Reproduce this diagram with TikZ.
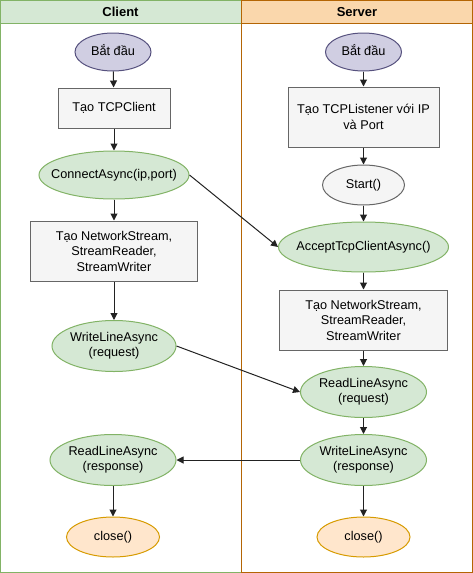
\documentclass[tikz,border=0pt]{standalone}
\usepackage{fontspec}
\setmainfont{Liberation Sans}
\usetikzlibrary{shapes.geometric,arrows.meta}
\definecolor{gfill}{HTML}{D5E8D4}
\definecolor{gline}{HTML}{82B366}
\definecolor{ofill}{HTML}{FAD7AC}
\definecolor{oline}{HTML}{B46504}
\definecolor{pfill}{HTML}{D0CEE2}
\definecolor{pline}{HTML}{56517E}
\definecolor{rfill}{HTML}{F5F5F5}
\definecolor{rline}{HTML}{666666}
\definecolor{cfill}{HTML}{FFE6CC}
\definecolor{cline}{HTML}{D79B00}
\definecolor{arr}{HTML}{222222}
\newcommand\ztxt[1]{\makebox[0pt]{\begin{tabular}{@{}c@{}}#1\end{tabular}}}
\tikzset{
  base/.style={font=\fontsize{12.7}{15.5}\selectfont, align=center, inner sep=0pt, line width=1pt},
  startnode/.style={base, ellipse, draw=pline, fill=pfill, minimum width=76pt, minimum height=38pt},
  boxnode/.style={base, rectangle, draw=rline, fill=rfill},
  greennode/.style={base, ellipse, draw=gline, fill=gfill},
  greynode/.style={base, ellipse, draw=rline, fill=rfill, minimum width=82pt, minimum height=40pt},
  endnode/.style={base, ellipse, draw=cline, fill=cfill, minimum width=93pt, minimum height=40pt},
  flow/.style={-{Triangle[length=7pt,width=7pt]}, line width=1pt, draw=arr},
  header/.style={font=\fontsize{13}{15}\selectfont\bfseries},
}
\begin{document}
\begin{tikzpicture}[x=1pt,y=-1pt]
\useasboundingbox (0,0) rectangle (473,573);
% lanes
\draw[line width=1pt, draw=gline] (0.5,0.5) rectangle (241,572.5);
\draw[line width=1pt, draw=gline, fill=gfill] (0.5,0.5) rectangle (241,23);
\draw[line width=1pt, draw=oline] (241,0.5) rectangle (472.5,572.5);
\draw[line width=1pt, draw=oline, fill=ofill] (241,0.5) rectangle (472.5,23);
\node[header] (hc) at (120.5,12) {Client};
\node[header] (hs) at (357,12) {Server};
% client
\node[startnode] (c1) at (113,52) {\ztxt{Bắt đầu}};
\node[boxnode, minimum width=112pt, minimum height=40pt] (c2) at (114,108) {Tạo TCPClient};
\node[greennode, minimum width=150pt, minimum height=48pt] (c3) at (114,175) {\ztxt{ConnectAsync(ip,port)}};
\node[boxnode, minimum width=167pt, minimum height=60pt] (c4) at (114,251) {Tạo NetworkStream,\\StreamReader,\\StreamWriter};
\node[greennode, minimum width=124pt, minimum height=51pt] (c5) at (114,346) {\ztxt{WriteLineAsync\\(request)}};
\node[greennode, minimum width=126pt, minimum height=51pt] (c6) at (113,460) {\ztxt{ReadLineAsync\\(response)}};
\node[endnode] (c7) at (113,537) {\ztxt{close()}};
% server
\node[startnode] (s1) at (363.5,52) {\ztxt{Bắt đầu}};
\node[boxnode, minimum width=151pt, minimum height=60pt] (s2) at (363.5,117) {Tạo TCPListener với IP\\và Port};
\node[greynode] (s3) at (363.5,185) {\ztxt{Start()}};
\node[greennode, minimum width=170pt, minimum height=50pt] (s4) at (363.5,247) {\ztxt{AcceptTcpClientAsync()}};
\node[boxnode, minimum width=168pt, minimum height=60pt] (s5) at (363.5,320) {Tạo NetworkStream,\\StreamReader,\\StreamWriter};
\node[greennode, minimum width=126pt, minimum height=51pt] (s6) at (363.5,392) {\ztxt{ReadLineAsync\\(request)}};
\node[greennode, minimum width=126pt, minimum height=51pt] (s7) at (363.5,460) {\ztxt{WriteLineAsync\\(response)}};
\node[endnode] (s8) at (363.5,537) {\ztxt{close()}};
% client flow
\draw[flow] (c1) -- (c2);
\draw[flow] (c2) -- (c3);
\draw[flow] (c3) -- (c4);
\draw[flow] (c4) -- (c5);
\draw[flow] (c6) -- (c7);
% server flow
\draw[flow] (s1) -- (s2);
\draw[flow] (s2) -- (s3);
\draw[flow] (s3) -- (s4);
\draw[flow] (s4) -- (s5);
\draw[flow] (s5) -- (s6);
\draw[flow] (s6) -- (s7);
\draw[flow] (s7) -- (s8);
% cross flow
\draw[flow] (c3.east) -- (s4.west);
\draw[flow] (c5.east) -- (s6.west);
\draw[flow] (s7.west) -- (c6.east);
\end{tikzpicture}
\end{document}
